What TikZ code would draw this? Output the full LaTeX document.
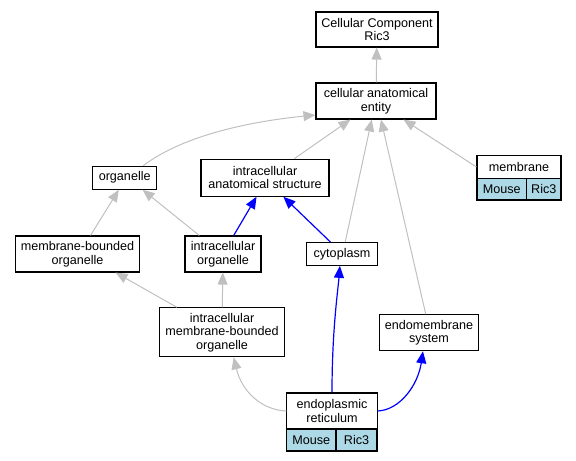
\documentclass[tikz,border=0pt]{standalone}
\usepackage{fontspec}
\setmainfont{Liberation Sans}
\usetikzlibrary{arrows.meta}
\definecolor{edgegray}{HTML}{C0C0C0}
\definecolor{cellblue}{HTML}{ADD8E6}
\begin{document}
\begin{tikzpicture}[x=1bp,y=-1bp,
  term/.style={draw,line width=1.1bp,align=center,inner sep=0pt,font=\fontsize{12.6bp}{13.5bp}\selectfont},
  cell/.style={term,fill=cellblue},
  isa/.style={draw=edgegray,line width=1bp,-{Triangle[length=12bp,width=10bp]}},
  partof/.style={draw=blue,line width=1.2bp,-{Triangle[length=12bp,width=10bp]}}]
\useasboundingbox (0,0) rectangle (576,461);
      \node[term,minimum width=122bp,minimum height=35bp] (ccr3) at (377,29.5) {Cellular Component\\Ric3};
      \node[term,minimum width=120bp,minimum height=36bp] (cae) at (376,101) {cellular anatomical\\entity};
      \node[term,minimum width=84bp,minimum height=22.3bp] (memtop) at (519,167) {membrane};
      \node[cell,minimum width=49.7bp,minimum height=21.7bp] (memmouse) at (501.8,189.2) {Mouse};
      \node[cell,minimum width=34.3bp,minimum height=21.7bp] (memric) at (543.8,189.2) {Ric3};
      \node[term,minimum width=64bp,minimum height=23bp] (org) at (124.7,177.7) {organelle};
      \node[term,minimum width=128bp,minimum height=37bp] (ias) at (265,177.7) {intracellular\\anatomical structure};
      \node[term,minimum width=124bp,minimum height=36bp] (mbo) at (77.5,254) {membrane-bounded\\organelle};
      \node[term,minimum width=76bp,minimum height=36bp] (io) at (223,254) {intracellular\\organelle};
      \node[term,minimum width=70.6bp,minimum height=22.7bp] (cyto) at (342,254) {cytoplasm};
      \node[term,minimum width=125bp,minimum height=49bp] (imbo) at (222,332.3) {intracellular\\membrane-bounded\\organelle};
      \node[term,minimum width=98.7bp,minimum height=36bp] (endo) at (429,332.7) {endomembrane\\system};
      \node[term,minimum width=90.3bp,minimum height=36bp] (ertop) at (332,411) {endoplasmic\\reticulum};
      \node[cell,minimum width=49.3bp,minimum height=22bp] (ermouse) at (311.3,440) {Mouse};
      \node[cell,minimum width=41bp,minimum height=22bp] (erric) at (356.5,440) {Ric3};
      \draw[isa] (cae) -- (ccr3);
      \draw[isa] (org.33) .. controls (185,134) and (255,121) .. (cae.193);
      \draw[isa] (ias.33) -- (cae.216);
      \draw[isa] (cyto.75) -- (cae.257);
      \draw[isa] (endo.100) -- (cae.285);
      \draw[isa] (memtop.west) -- (cae.326);
      \draw[isa] (mbo.55) -- (org.244);
      \draw[isa] (io.142) -- (org.326);
      \draw[partof] (io.60) -- (ias.246);
      \draw[partof] (cyto.134) -- (ias.314);
      \draw[isa] (imbo.151.5) -- (mbo.334);
      \draw[isa] (imbo) -- (io);
      \draw[isa] (ertop.west) .. controls (262,410) and (242,392) .. (imbo.295);
      \draw[partof] (ertop.north) .. controls (332,330) and (338,290) .. (cyto.260);
      \draw[partof] (ertop.east) .. controls (400,410) and (418,385) .. (endo.252);
\end{tikzpicture}
\end{document}
